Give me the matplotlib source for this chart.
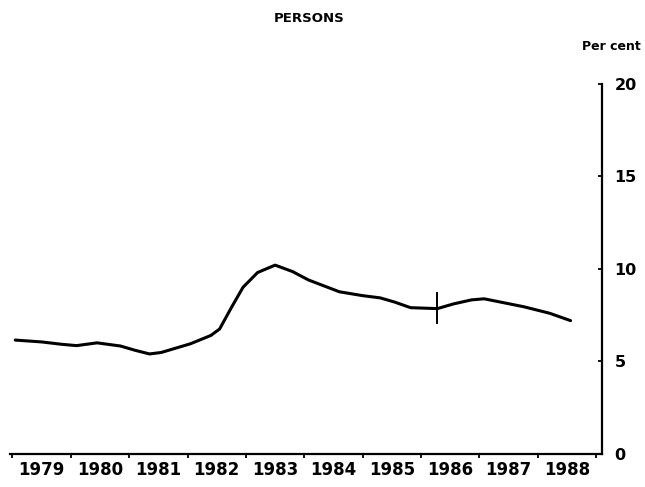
import matplotlib.pyplot as plt

# unemployment rate, persons (per cent)
years = [1979.05, 1979.5, 1979.85, 1980.1, 1980.45, 1980.85, 1981.1, 1981.35,
         1981.55, 1982.05, 1982.4, 1982.55, 1982.75, 1982.95, 1983.2, 1983.5,
         1983.8, 1984.07, 1984.6, 1985.0, 1985.3, 1985.55, 1985.82, 1986.28,
         1986.55, 1986.86, 1987.08, 1987.76, 1988.2, 1988.56]
rate = [6.15, 6.05, 5.92, 5.85, 6.0, 5.83, 5.6, 5.4,
        5.48, 5.95, 6.4, 6.75, 7.9, 9.0, 9.8, 10.2,
        9.85, 9.4, 8.76, 8.55, 8.43, 8.2, 7.9, 7.85,
        8.1, 8.32, 8.38, 7.95, 7.6, 7.2]

# series break
break_x = 1986.28
break_lo, break_hi = 7.08, 8.7

year_labels = ['1979', '1980', '1981', '1982', '1983', '1984', '1985',
               '1986', '1987', '1988']
y_ticks = [0, 5, 10, 15, 20]

fig = plt.figure(figsize=(6.45, 4.87), dpi=100)
ax = fig.add_axes([0.0155, 0.068, 0.918, 0.76])

ax.plot(years, rate, color='black', lw=2.2,
        solid_capstyle='round', solid_joinstyle='round')
ax.plot([break_x, break_x], [break_lo, break_hi], color='black', lw=1.4)

ax.set_xlim(1978.96, 1989.1)
ax.set_ylim(0, 20)

for s in ['left', 'top']:
    ax.spines[s].set_visible(False)
ax.spines['right'].set_linewidth(1.6)
ax.spines['bottom'].set_linewidth(1.6)

# year ticks at boundaries, labels at mid-year
ax.set_xticks(range(1979, 1990))
ax.set_xticklabels([])
ax.tick_params(axis='x', which='major', direction='out', length=3, width=1.3)
ax.set_xticks([int(y) + 0.5 for y in year_labels], minor=True)
ax.set_xticklabels(year_labels, minor=True, fontsize=12, fontweight='bold')
ax.tick_params(axis='x', which='minor', length=0, pad=5)

ax.yaxis.tick_right()
ax.set_yticks(y_ticks)
ax.set_yticklabels([str(v) for v in y_ticks], fontsize=11.5, fontweight='bold')
ax.tick_params(axis='y', direction='in', length=3, width=1.3, pad=9)

fig.text(0.48, 0.975, 'PERSONS', ha='center', va='top',
         fontsize=9.5, fontweight='bold')
fig.text(0.994, 0.905, 'Per cent', ha='right', va='center',
         fontsize=9, fontweight='bold')

fig.savefig('out.png', dpi=100)
